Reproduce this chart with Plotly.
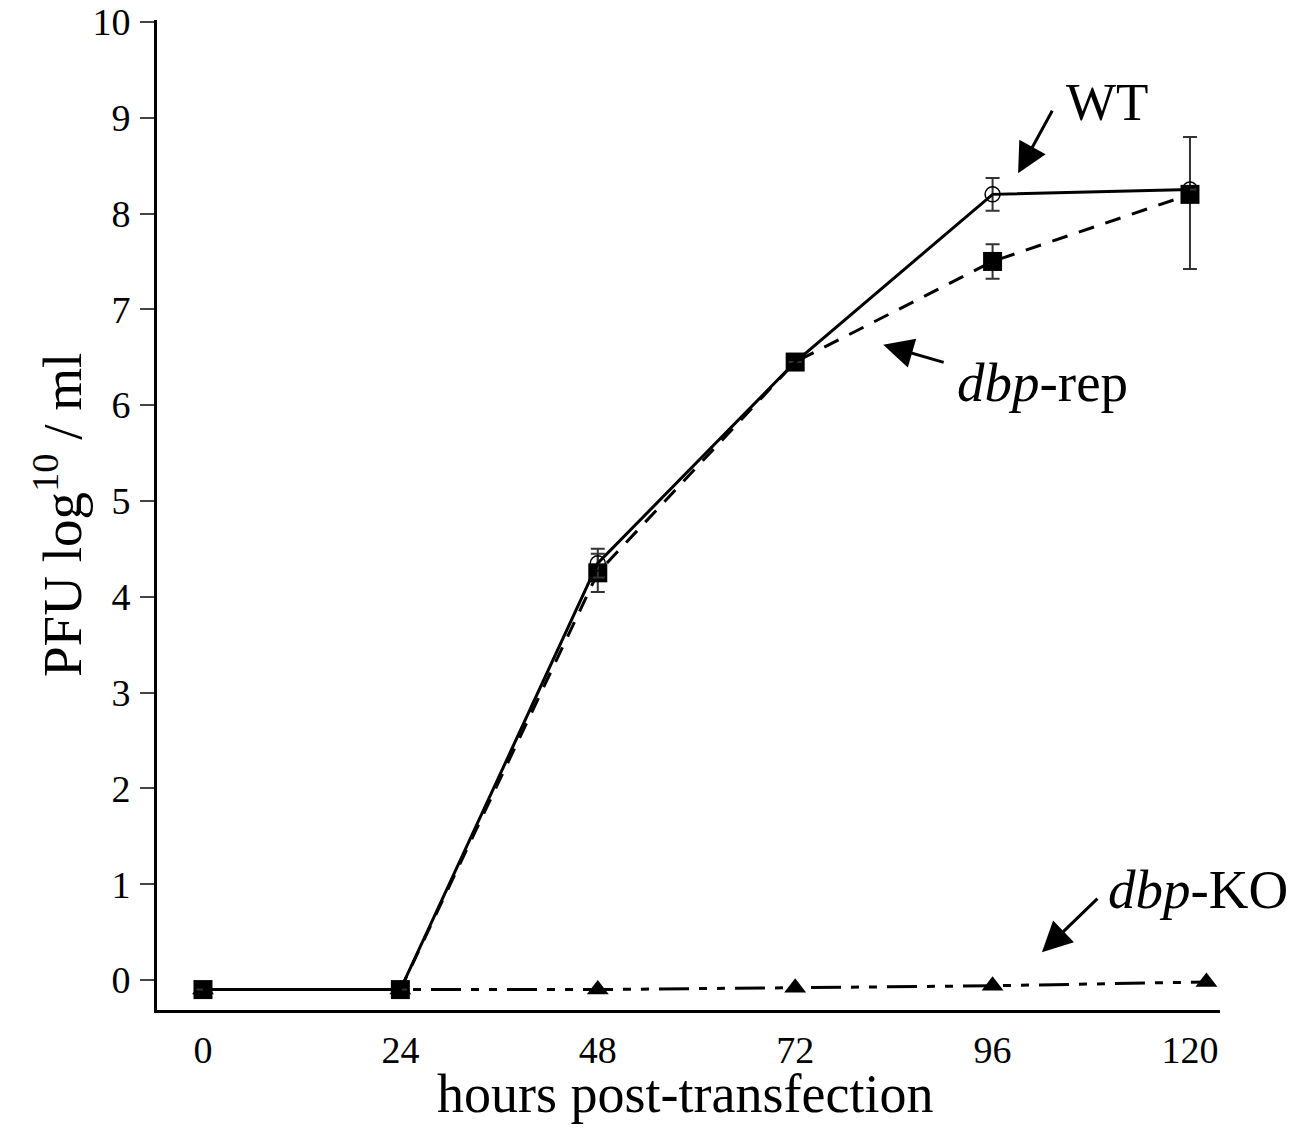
import plotly.graph_objects as go

hours = [0, 24, 48, 72, 96, 120]
wt = [-0.1, -0.1, 4.35, 6.45, 8.2, 8.25]
wt_err = [0, 0, 0.15, 0, 0.17, 0]
rep = [-0.1, -0.1, 4.25, 6.45, 7.5, 8.2]
rep_err_plus = [0, 0, 0.2, 0, 0.18, 0.6]
rep_err_minus = [0, 0, 0.2, 0, 0.18, 0.78]
ko_hours = [0, 24, 48, 72, 96, 122]
ko = [-0.1, -0.1, -0.1, -0.08, -0.06, -0.02]
x_ticks = [0, 24, 48, 72, 96, 120]
y_ticks = list(range(0, 11))

FONT = "Liberation Serif"
fig = go.Figure()

fig.add_trace(go.Scatter(
    x=ko_hours, y=ko, mode="lines+markers",
    line=dict(color="black", width=3, dash="30px,10px,8px,10px,8px,10px"),
    marker=dict(symbol="triangle-up", size=19, color="black"),
    showlegend=False))
fig.add_trace(go.Scatter(
    x=hours, y=rep, mode="lines+markers",
    line=dict(color="black", width=3, dash="16px,12px"),
    marker=dict(symbol="square", size=19, color="black"),
    error_y=dict(type="data", array=rep_err_plus, arrayminus=rep_err_minus,
                 color="#333", thickness=2, width=7),
    showlegend=False))
fig.add_trace(go.Scatter(
    x=hours, y=wt, mode="lines+markers",
    line=dict(color="black", width=3),
    marker=dict(symbol="circle-open", size=15, color="black", line=dict(width=1.5)),
    error_y=dict(type="data", array=wt_err, color="#333", thickness=2, width=7),
    showlegend=False))

xr = [-5.59, 123.65]
yr = [-0.313, 10.02]
fig.update_layout(
    width=1292, height=1118,
    margin=dict(l=149, r=80, t=12, b=116),
    paper_bgcolor="white", plot_bgcolor="white",
    font=dict(family=FONT, color="black"),
    xaxis=dict(range=xr, tickvals=x_ticks, ticks="", showgrid=False, zeroline=False,
               showline=True, linecolor="black", linewidth=3, ticklabelstandoff=4,
               tickfont=dict(size=38, family=FONT), automargin=False),
    yaxis=dict(range=yr, tickvals=y_ticks, ticks="outside", ticklen=14, tickwidth=2,
               showgrid=False, zeroline=False, showline=True, linecolor="black", linewidth=3,
               tickfont=dict(size=38, family=FONT), ticklabelstandoff=2,
               ticklabeloverflow="allow", automargin=False),
    yaxis2=dict(range=yr, overlaying="y", matches="y", tickvals=y_ticks, ticks="inside",
                ticklen=12, tickwidth=2, showticklabels=False, showgrid=False, zeroline=False),
)

# axis titles
fig.add_annotation(xref="paper", yref="paper", x=0.497, y=0, yanchor="middle", yshift=-84,
                   text="hours post-transfection", showarrow=False,
                   font=dict(size=54, family=FONT))
fig.add_annotation(xref="paper", yref="paper", x=0, y=0.5, xanchor="center", xshift=-99,
                   textangle=-90, text="PFU log<sup>10</sup> / ml", showarrow=False,
                   font=dict(size=55, family=FONT))

arrow = dict(xref="x", yref="y", axref="pixel", ayref="pixel", text="", showarrow=True,
             arrowhead=2, arrowsize=2, arrowwidth=3, arrowcolor="black")
fig.add_annotation(x=99.1, y=8.42, ax=35, ay=-64, **arrow)
fig.add_annotation(x=82.7, y=6.63, ax=62, ay=18, **arrow)
fig.add_annotation(x=102.0, y=0.29, ax=57, ay=-55, **arrow)

fig.add_annotation(xref="x", yref="y", x=109.9, y=9.165, text="WT", showarrow=False,
                   font=dict(size=53, family=FONT))
fig.add_annotation(xref="x", yref="y", x=102.1, y=6.24, text="<i>dbp</i>-rep", showarrow=False,
                   font=dict(size=55, family=FONT))
fig.add_annotation(xref="x", yref="y", x=121.0, y=0.94, text="<i>dbp</i>-KO", showarrow=False,
                   font=dict(size=55, family=FONT))

fig.write_html("out.html")
